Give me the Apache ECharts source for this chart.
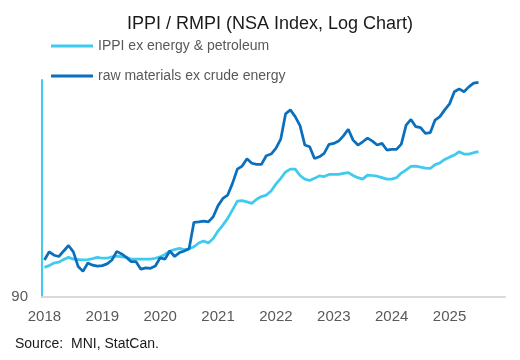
<!DOCTYPE html>
<html>
<head>
<meta charset="utf-8">
<script src="https://cdn.jsdelivr.net/npm/echarts@6/dist/echarts.min.js"></script>
<style>html,body{margin:0;padding:0;background:#fff}#c{width:520px;height:360px}</style>
</head>
<body>
<div id="c"></div>
<script>
var years = ['2018','2019','2020','2021','2022','2023','2024','2025'];
var monthCodes = ['01','02','03','04','05','06','07','08','09','10','11','12'];
var seriesNames = ['IPPI ex energy & petroleum', 'raw materials ex crude energy'];
var yTickLabels = ['90'];

// IPPI ex energy & petroleum, monthly Jan 2018 - Jul 2025
var ippi = [
 96.5, 96.9, 97.5, 97.7, 98.3, 98.8, 98.4, 98.3, 98.2, 98.3, 98.5, 98.8,
 98.6, 98.6, 98.9, 99.1, 98.9, 98.8, 98.4, 98.4, 98.4, 98.4, 98.4, 98.6,
 98.9, 99.5, 100.3, 100.6, 100.9, 100.6, 100.8, 101.3, 102.2, 102.7, 102.2, 103.3,
 105.1, 106.6, 108.3, 110.5, 112.8, 112.9, 112.6, 112.2, 113.3, 114.0, 114.4, 115.5,
 117.4, 119.0, 120.8, 121.6, 121.6, 119.8, 118.8, 118.4, 119.0, 119.7, 119.5, 120.1,
 120.1, 120.1, 120.4, 120.6, 119.8, 119.2, 118.8, 119.9, 119.8, 119.6, 119.2, 118.8,
 118.8, 119.2, 120.5, 121.4, 122.4, 122.5, 122.2, 121.9, 121.8, 122.9, 123.4, 124.4,
 125.1, 125.7, 126.7, 126.0, 126.0, 126.4, 126.7
];
// raw materials ex crude energy, monthly Jan 2018 - Jul 2025
var rmpi = [
 98.2, 100.1, 99.3, 99.0, 100.3, 101.6, 100.1, 96.7, 95.6, 97.5, 97.0, 96.8,
 96.9, 97.3, 98.2, 100.2, 99.6, 98.8, 97.8, 97.8, 96.1, 96.4, 96.3, 96.8,
 98.7, 98.4, 100.3, 99.0, 99.9, 100.3, 100.8, 107.3, 107.4, 107.6, 107.4, 108.7,
 111.6, 113.5, 114.4, 117.6, 121.6, 122.5, 124.6, 123.3, 123.0, 123.0, 125.5, 126.0,
 127.7, 130.5, 138.5, 139.8, 137.6, 134.7, 128.7, 128.2, 124.7, 125.2, 126.2, 128.9,
 129.2, 129.9, 131.5, 133.6, 130.2, 128.7, 129.7, 130.8, 129.9, 128.7, 129.2, 127.2,
 127.4, 127.4, 129.0, 134.9, 136.7, 134.4, 134.1, 132.3, 132.5, 136.5, 137.6, 139.8,
 141.8, 145.9, 146.9, 145.9, 147.6, 148.9, 149.2
];

var categories = [];
years.forEach(function (y) { monthCodes.forEach(function (m) { categories.push(y + '-' + m); }); });

var FONT = 'Liberation Sans';
var chart = echarts.init(document.getElementById('c'), null, {renderer: 'canvas'});
chart.setOption({
  animation: false,
  backgroundColor: '#ffffff',
  title: {
    text: 'IPPI / RMPI (NSA Index, Log Chart)',
    left: 122, top: 10,
    textStyle: {fontFamily: FONT, fontSize: 18, fontWeight: 'normal', color: '#1a1a1a'}
  },
  legend: {
    orient: 'vertical', left: 46, top: 34,
    itemWidth: 42, itemHeight: 3, itemGap: 16, icon: 'rect',
    textStyle: {fontFamily: FONT, fontSize: 14, color: '#595959'},
    data: seriesNames
  },
  graphic: [{
    type: 'text', left: 15, top: 337,
    style: {text: 'Source:  MNI, StatCan.', fontFamily: FONT, fontSize: 14, fill: '#1a1a1a'}
  }],
  grid: {left: 42, right: 15, top: 80, bottom: 63, containLabel: false},
  xAxis: {
    type: 'category', data: categories, boundaryGap: true,
    axisLine: {show: true, lineStyle: {color: '#d9d9d9', width: 2}},
    axisTick: {show: false},
    axisLabel: {
      interval: function (i) { return i % 12 === 0; },
      formatter: function (v) { return v.slice(0, 4); },
      margin: 12, fontFamily: FONT, fontSize: 15, color: '#595959'
    },
    splitLine: {show: false}
  },
  yAxis: {
    type: 'log', logBase: 10, min: 90, max: 150,
    axisLine: {show: true, lineStyle: {color: '#3ecbef', width: 2}},
    axisTick: {show: false},
    splitLine: {show: false},
    axisLabel: {
      margin: 14, fontFamily: FONT, fontSize: 15, color: '#595959',
      formatter: function (v) { return Math.abs(v - 90) < 0.01 ? yTickLabels[0] : ''; }
    }
  },
  series: [
    {name: seriesNames[0], type: 'line', data: ippi, showSymbol: false, symbol: 'none',
     lineStyle: {color: '#3ecbef', width: 2.75}, itemStyle: {color: '#3ecbef'}, z: 2},
    {name: seriesNames[1], type: 'line', data: rmpi, showSymbol: false, symbol: 'none',
     lineStyle: {color: '#0a70be', width: 2.75}, itemStyle: {color: '#0a70be'}, z: 3}
  ]
});
</script>
</body>
</html>
